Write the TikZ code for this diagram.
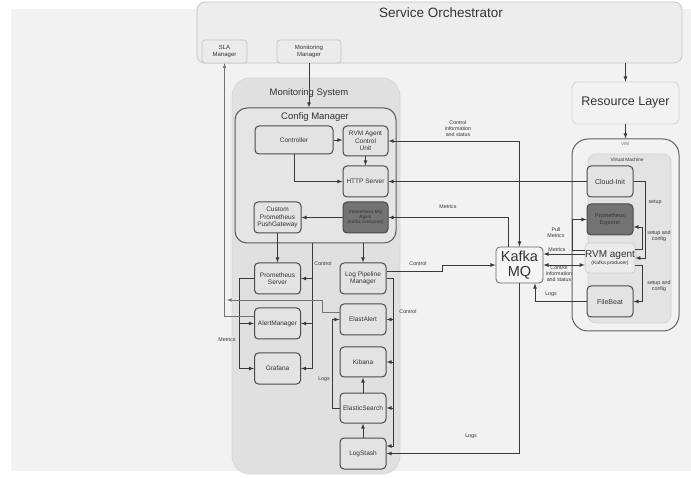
\documentclass[tikz,border=0pt]{standalone}
\usepackage{fontspec}
\setmainfont{Liberation Sans}
\usepackage{tikz}
\usepackage{xcolor}
\usetikzlibrary{arrows, positioning, calc}

\definecolor{bgcol}{HTML}{F2F2F2}
\definecolor{inkcol}{HTML}{333333}
\definecolor{lineink}{HTML}{3A3A3A}
\definecolor{boxfill}{HTML}{E3E3E3}
\definecolor{boxline}{HTML}{4A4A4A}
\definecolor{darkfill}{HTML}{737373}
\definecolor{softline}{HTML}{C4C4C4}

\begin{document}
\begin{tikzpicture}[x=1pt, y=-1pt, >=latex,
  txt/.style={text=inkcol, font=\fontsize{6.5}{7.5}\selectfont, align=center},
  box/.style={draw=boxline, fill=boxfill, rounded corners=4pt, line width=1pt,
    minimum width=46pt, minimum height=31pt, inner sep=0pt, txt},
  darkbox/.style={box, fill=darkfill, font=\fontsize{4.6}{5.2}\selectfont},
  softbox/.style={draw=softline, fill=black!8, rounded corners=3pt, line width=0.7pt,
    inner sep=0pt, txt, font=\fontsize{6}{7}\selectfont},
  lbl/.style={text=inkcol, font=\fontsize{5.3}{6}\selectfont, align=center, inner sep=0pt},
  title/.style={text=inkcol, inner sep=0pt},
  conn/.style={->, draw=lineink, line width=0.8pt},
  both/.style={<->, draw=lineink, line width=0.8pt},
  faint/.style={->, draw=black!55, line width=0.6pt}]
\useasboundingbox (0,0) rectangle (691,478);
\fill[white] (0,0) rectangle (691,478);
\fill[bgcol] (11,9) rectangle (691,471);

% Service Orchestrator
\node[draw=softline, fill=black!7, rounded corners=8pt, line width=0.7pt,
  minimum width=485pt, minimum height=61pt, inner sep=0pt] (so) at (439.5,32.5) {};
\node[title, font=\fontsize{13.5}{15}\selectfont] (sotitle) at (441,13) {Service Orchestrator};
\node[softbox, minimum width=45pt, minimum height=23pt] (sla) at (224.5,51.5) {SLA\\Manager};
\node[softbox, minimum width=64pt, minimum height=23pt] (monmgr) at (309,51.5) {Monitoring\\Manager};

% Resource side
\node[draw=black!18, fill=black!5, rounded corners=6pt, line width=0.7pt,
  minimum width=107pt, minimum height=42pt, inner sep=0pt, title,
  font=\fontsize{12.5}{14}\selectfont] (res) at (625.5,103) {Resource Layer};
\node[draw=black!62, fill=bgcol, rounded corners=16pt, line width=1pt,
  minimum width=107pt, minimum height=192pt, inner sep=0pt] (vim) at (625.5,235) {};
\node[lbl, font=\fontsize{4.5}{5}\selectfont, text=black!55] (vimtitle) at (625,144) {VIM};
\node[draw=black!18, fill=black!11, rounded corners=8pt, line width=0.7pt,
  minimum width=83pt, minimum height=169pt, inner sep=0pt] (vm) at (629.5,238.5) {};
\node[lbl, font=\fontsize{4.8}{5.5}\selectfont] (vmtitle) at (627,160) {Virtual Machine};
\node[box, font=\fontsize{7}{8}\selectfont] (cloudinit) at (610,181.5) {Cloud-Init};
\node[box, fill=darkfill, font=\fontsize{5.5}{6.5}\selectfont] (promexp) at (610,219.5) {Prometheus\\Exporter};
\node[box, draw=black!20, fill=black!8, line width=0.7pt, minimum height=30pt] (rvm) at (610,258)
  {{\fontsize{10}{11}\selectfont RVM agent}\\[-1pt]{\fontsize{5}{6}\selectfont (Kafka producer)}};
\node[box, font=\fontsize{7}{8}\selectfont] (filebeat) at (610,301.5) {FileBeat};

% Kafka
\node[box, draw=black!60, fill=black!4, line width=0.8pt, minimum width=47pt, minimum height=36pt,
  font=\fontsize{14.5}{15.5}\selectfont] (kafka) at (519.5,265) {Kafka\\MQ};

% Monitoring System
\node[draw=black!16, fill=black!12, rounded corners=18pt, line width=0.7pt,
  minimum width=168pt, minimum height=396pt, inner sep=0pt] (monsys) at (316,276) {};
\node[title, font=\fontsize{9.5}{11}\selectfont] (monsystitle) at (309,93) {Monitoring System};
\node[draw=black!65, fill=black!10, rounded corners=12pt, line width=1pt,
  minimum width=161pt, minimum height=135pt, inner sep=0pt] (cfgmgr) at (315.5,175.5) {};
\node[title, font=\fontsize{9.5}{11}\selectfont] (cfgtitle) at (315,117) {Config Manager};
\node[box, minimum width=78pt, minimum height=28pt] (controller) at (294,140) {Controller};
\node[box, minimum width=45pt, minimum height=30pt] (rvmacu) at (365.5,141) {RVM Agent\\Control\\Unit};
\node[box, minimum width=45pt] (http) at (365.5,181.5) {HTTP Server};
\node[box, minimum width=47pt] (pushgw) at (277.5,217.5) {Custom\\Prometheus\\PushGateway};
\node[darkbox, minimum width=45pt] (mqagent) at (365.5,217.5) {Prometheus MQ\\Agent\\(Kafka consumer)};

\node[box] (promsrv) at (277.5,278.5) {Prometheus\\Server};
\node[box] (alertmgr) at (277.5,323.5) {AlertManager};
\node[box] (grafana) at (277.5,368.5) {Grafana};
\node[box] (lpm) at (363,278.5) {Log Pipeline\\Manager};
\node[box] (elastalert) at (363,319.5) {ElastAlert};
\node[box, minimum height=30pt] (kibana) at (363,362) {Kibana};
\node[box, minimum height=30pt] (es) at (363,408) {ElasticSearch};
\node[box] (logstash) at (363,453.5) {LogStash};

% helper points
\coordinate (ctlx) at (312,243);
\coordinate (alertout) at (227,300);

% Orchestrator links
\draw[conn] (monmgr.south) -- (monmgr.south |- cfgmgr.north);
\draw[conn] (res.north |- so.south) -- (res.north);
\draw[conn] (res.south) -- (vim.north);

% Config Manager inside
\draw[conn] (controller.east) -- (controller.east -| rvmacu.west);
\draw[conn] (rvmacu.south) -- (http.north);
\draw[conn] (controller.south) |- (http.west);
\draw[conn] (mqagent.west) -- (pushgw.east);

% Kafka and VM links
\draw[both] (rvmacu.east) -| (kafka.north);
\draw[conn] ([xshift=-11pt]kafka.north) |- (mqagent.east);
\draw[conn] (cloudinit.west) -- (http.east);
\draw[conn] ([yshift=7pt]lpm.east) -- ++(56,0) |- (kafka.west);
\draw[conn] ([yshift=4pt]rvm.west) -- ([yshift=4pt]rvm.west -| kafka.east);
\draw[both] ([yshift=-7pt]rvm.west) -- ([yshift=-7pt]rvm.west -| kafka.east);
\draw[conn] ([yshift=8pt]rvm.west) -- ++(-12,0) |- (promexp.west);
\draw[conn] (filebeat.west) -| ([xshift=15.5pt]kafka.south);
\draw[conn] (kafka.south) |- (logstash.east);
\draw[conn] (cloudinit.east) -- ++(12,0) |- (rvm.east);
\draw[conn] ([yshift=9pt]rvm.east) -- ++(7,0) |- ([yshift=-7.5pt]promexp.east);
\draw[conn] ([yshift=-7pt]rvm.east) -- ++(7,0) |- (filebeat.east);

% Prometheus side
\draw[conn] (pushgw.south) -- (promsrv.north);
\draw[conn] (ctlx) |- (grafana.east);
\draw[conn] (ctlx |- promsrv.east) -- (promsrv.east);
\draw[conn] (ctlx |- alertmgr.east) -- (alertmgr.east);
\draw[conn] (promsrv.west) -- ++(-15,0) |- (grafana.west);
\draw[conn] ([xshift=-15pt]promsrv.west) |- (alertmgr.west);
\draw[faint] ([yshift=7.5pt]alertmgr.west) -| (sla.south);

% Log pipeline side
\draw[conn] (lpm.north |- cfgmgr.south) -- (lpm.north);
\draw[conn] (lpm.east) -- ++(7,0) |- ([yshift=7.5pt]logstash.east);
\draw[conn] ([xshift=7pt]lpm.east |- elastalert.east) -- (elastalert.east);
\draw[conn] ([xshift=7pt]lpm.east |- kibana.east) -- (kibana.east);
\draw[conn] ([xshift=7pt]lpm.east |- es.east) -- (es.east);
\draw[conn] (logstash.north) -- (es.south);
\draw[conn] (es.north) -- (kibana.south);
\draw[conn] (es.west) -- ++(-7,0) |- (elastalert.west);
\draw[faint] ([yshift=7.5pt]elastalert.west) -- ++(-17,0) |- (alertout);

% Labels
\node[lbl] (lctlinfo) at (458,129) {Control\\information\\and status};
\node[lbl] (lmetrics) at (448,207) {Metrics};
\node[lbl] (lctl) at (418,264) {Control};
\node[lbl] (lpull) at (556,233) {Pull\\Metrics};
\node[lbl] (lmetrics2) at (557,250) {Metrics};
\node[lbl] (lctlinfo2) at (559,274) {Control\\information\\and status};
\node[lbl] (llogs) at (551,294) {Logs};
\node[lbl] (llogs2) at (471,436) {Logs};
\node[lbl] (lsetup) at (655,202) {setup};
\node[lbl] (lsetup2) at (659,236) {setup and\\config};
\node[lbl] (lsetup3) at (659,286) {setup and\\config};
\node[lbl] (lctl2) at (323,264) {Control};
\node[lbl] (lctl3) at (408,312) {Control};
\node[lbl] (lmetrics3) at (227,340) {Metrics};
\node[lbl] (llogs3) at (324,379) {Logs};
\end{tikzpicture}
\end{document}
